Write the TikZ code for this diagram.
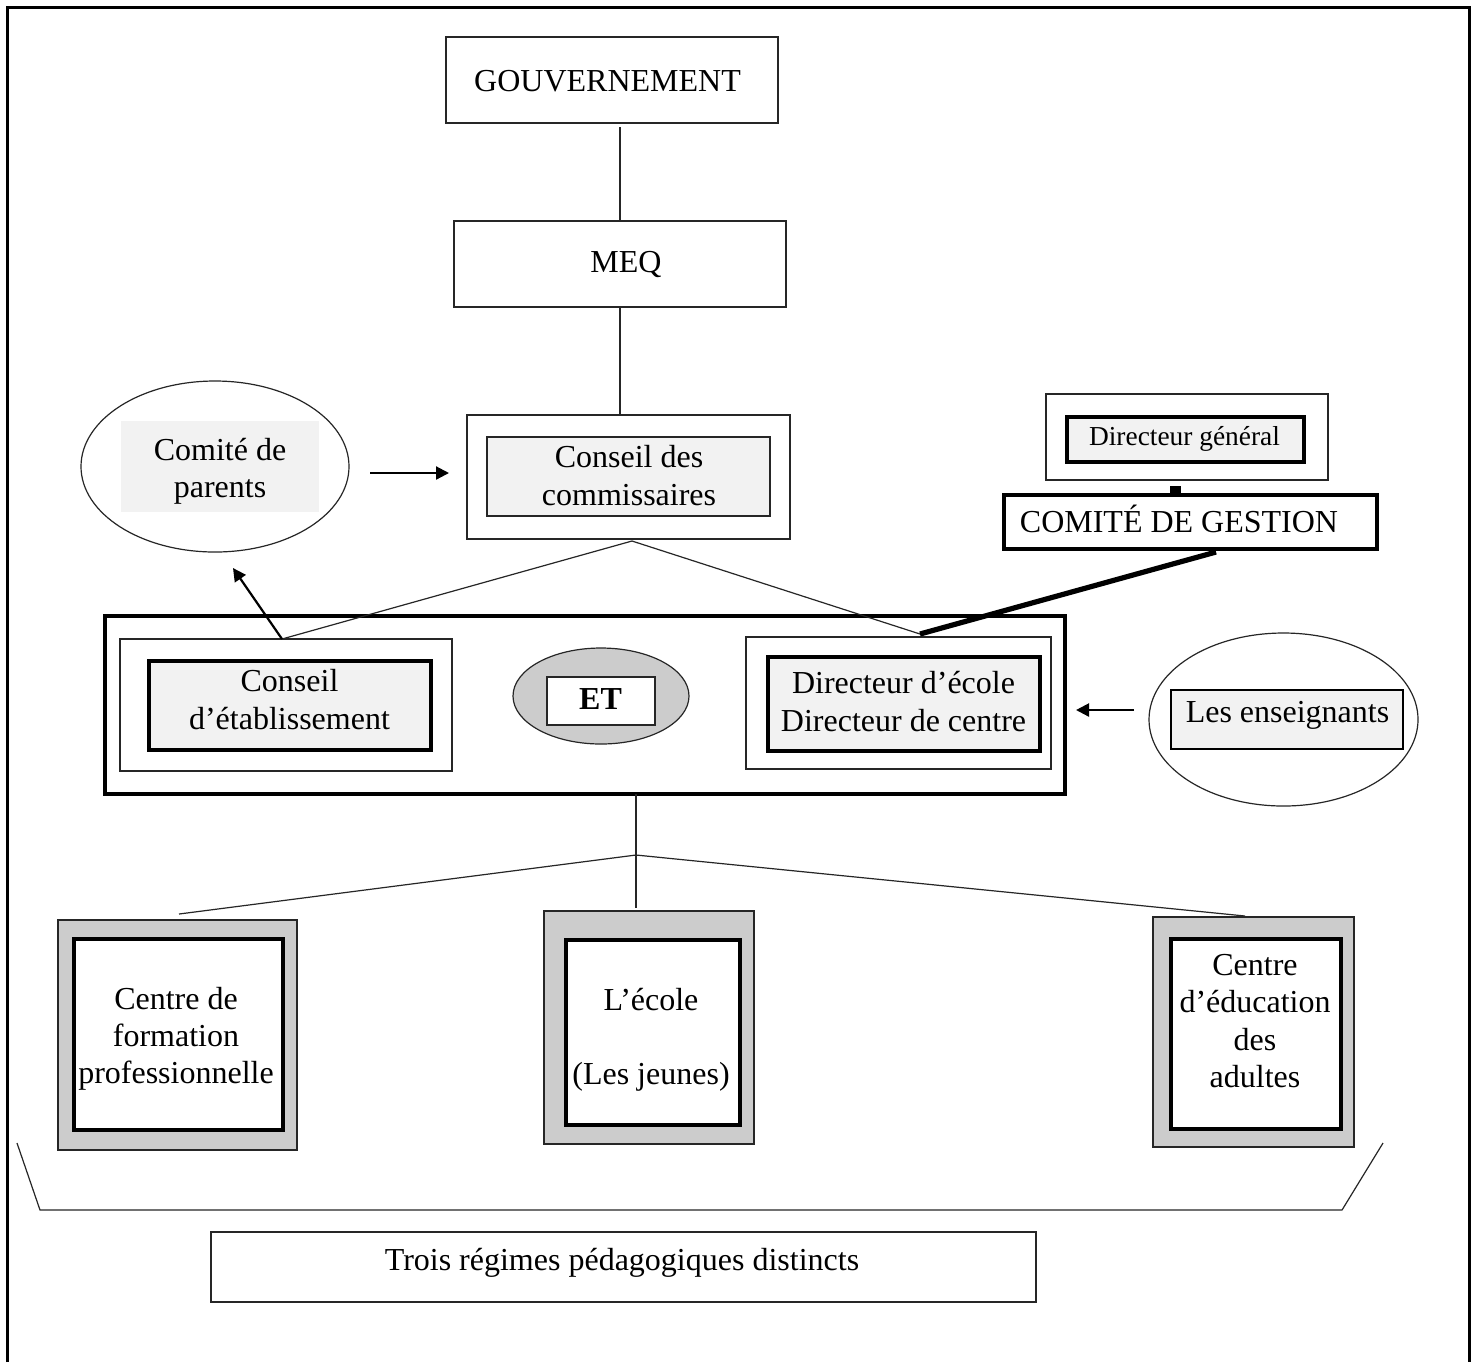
\documentclass[tikz,border=0pt]{standalone}
\usepackage{fontspec}
\setmainfont{Liberation Serif}
\usetikzlibrary{shapes.geometric,arrows.meta,calc}
\definecolor{lightfill}{HTML}{F2F2F2}
\definecolor{midgray}{HTML}{CCCCCC}
\begin{document}
\begin{tikzpicture}[x=0.5pt,y=-0.5pt,
  thinbox/.style={draw=black!85,line width=0.6pt,inner sep=0pt,outer sep=0pt},
  thickbox/.style={draw=black,line width=2.3pt,inner sep=0pt,outer sep=0pt},
  txt/.style={font=\fontsize{16}{18.6}\selectfont,align=center,inner sep=0pt},
  smalltxt/.style={font=\fontsize{13.7}{16}\selectfont,align=center,inner sep=0pt},
  conn/.style={line width=0.6pt,draw=black!85},
  arr/.style={line width=1.1pt,-{Triangle[length=6.5pt,width=6.5pt]}},
  heavy/.style={line width=2.6pt}]
\useasboundingbox (0,0) rectangle (1475,1362);
\fill[white] (0,0) rectangle (1475,1362);
% outer frame (open at the bottom)
\coordinate (f1) at (7,1362);
\coordinate (f2) at (7,7);
\coordinate (f3) at (1469,7);
\coordinate (f4) at (1469,1362);
\draw[line width=1.5pt] (f1) -- (f2) -- (f3) -- (f4);

% top chain
\node[thinbox,minimum width=166pt,minimum height=43pt] (gouv) at (612,80) {};
\node[txt] (gouvt) at (607.5,81) {GOUVERNEMENT};
\node[thinbox,minimum width=166pt,minimum height=43pt] (meq) at (620,264) {};
\node[txt] (meqt) at (626,264) {MEQ};
\node[thinbox,minimum width=161.5pt,minimum height=62pt] (cc) at (628.5,477) {};
\node[thinbox,fill=lightfill,minimum width=141.5pt,minimum height=39.5pt] (cci) at (628.5,476.5) {};
\node[txt] (cct) at (629,475.5) {Conseil des\\commissaires};

% comite de parents
\node[thinbox,ellipse,minimum width=134pt,minimum height=85.5pt] (cp) at (215,466.5) {};
\node[fill=lightfill,inner sep=0pt,minimum width=99pt,minimum height=45.5pt] (cpr) at (220,466.5) {};
\node[txt] (cpt) at (220,471.5) {Comité de\\parents};

% directeur general / comite de gestion
\node[thinbox,minimum width=141pt,minimum height=43pt] (dg) at (1187,437) {};
\node[thickbox,fill=lightfill,minimum width=118.5pt,minimum height=22.5pt] (dgi) at (1185.5,439.5) {};
\node[smalltxt] (dgt) at (1184.5,438.5) {Directeur général};
\node[thickbox,fill=white,minimum width=186.5pt,minimum height=27pt] (cg) at (1190.5,522) {};
\node[txt] (cgt) at (1179,518.5) {COMITÉ DE GESTION};

% ET block
\node[thickbox,minimum width=480pt,minimum height=89pt] (et) at (585,705) {};
\node[thinbox,minimum width=166pt,minimum height=66pt] (ceo) at (286,705) {};
\node[thickbox,fill=lightfill,minimum width=141pt,minimum height=44.5pt] (cei) at (290,705.5) {};
\node[txt] (cet) at (289.5,699.5) {Conseil\\d’établissement};
\node[thinbox,ellipse,fill=midgray,minimum width=88pt,minimum height=48pt] (etell) at (601,696) {};
\node[thinbox,fill=white,minimum width=54pt,minimum height=24pt] (etr) at (601,701) {};
\node[txt,font=\fontsize{16}{18.6}\selectfont\bfseries] (ett) at (600.5,699) {ET};
\node[thinbox,minimum width=152.5pt,minimum height=66pt] (deo) at (898.5,703) {};
\node[thickbox,fill=lightfill,minimum width=136pt,minimum height=47pt] (dei) at (904,704) {};
\node[txt] (det) at (903.5,701.5) {Directeur d’école\\Directeur de centre};

% les enseignants
\node[thinbox,ellipse,minimum width=134.5pt,minimum height=86.5pt] (ens) at (1283.5,719.5) {};
\node[draw=black,line width=1pt,fill=lightfill,inner sep=0pt,minimum width=116pt,minimum height=29.5pt] (ensr) at (1287,719.5) {};
\node[txt] (enst) at (1287.5,715.5) {Les enseignants};

% bottom boxes
\node[thinbox,fill=midgray,minimum width=119.5pt,minimum height=115pt] (cfp) at (177.5,1035) {};
\node[thickbox,fill=white,minimum width=104.5pt,minimum height=95.5pt] (cfpi) at (178.5,1034.5) {};
\node[txt] (cfpt) at (176,1038.5) {Centre de\\formation\\professionnelle};
\node[thinbox,fill=midgray,minimum width=105pt,minimum height=116.5pt] (ecole) at (649,1027.5) {};
\node[thickbox,fill=white,minimum width=87pt,minimum height=92.5pt] (ecolei) at (653,1032.5) {};
\node[txt] (ecolet) at (651,1040) {L’école\\[18.6pt](Les jeunes)};
\node[thinbox,fill=midgray,minimum width=100.5pt,minimum height=115pt] (cea) at (1253.5,1032) {};
\node[thickbox,fill=white,minimum width=85pt,minimum height=95pt] (ceai) at (1256,1034) {};
\node[txt] (ceat) at (1255,1021) {Centre\\d’éducation\\des\\adultes};

% trois regimes
\node[thinbox,minimum width=412.5pt,minimum height=35pt] (trois) at (623.5,1267) {};
\node[txt] (troist) at (622,1262.5) {Trois régimes pédagogiques distincts};

% connectors
\draw[conn] ($(meq.north |- gouv.south)+(0,4)$) -- (meq.north);
\draw[conn] (meq.south) -- (meq.south |- cc.north);
\coordinate (ccb) at ($(cc.south)+(3.5,2)$);
\coordinate (deA) at ($(deo.north west)+(174,-3)$);
\coordinate (ceA) at ($(ceo.north)+(-4,0)$);
\draw[conn] (ccb) -- (ceA);
\draw[conn] (ccb) -- (deA);
\coordinate (cpTip) at (233,568);
\draw[arr] (ceA) -- (cpTip);
\coordinate (pa1) at (370,473);
\coordinate (pa2) at (449,473);
\draw[arr] (pa1) -- (pa2);
\coordinate (ea1) at (1134,710);
\coordinate (ea2) at (1076,710);
\draw[arr] (ea1) -- (ea2);
\draw[heavy] ($(cg.south)+(25.5,3)$) -- (deA);
\coordinate (dgc) at ($(cg.north)+(-15.5,-9)$);
\draw[line width=5.5pt] (dgc) -- (dgc |- cg.north);

% tree to the three regimes
\coordinate (j) at (636,855);
\draw[conn] (j |- et.south) -- ($(j |- ecole.north)+(0,-3)$);
\draw[conn] (j) -- ($(cfp.north)+(1.5,-6)$);
\draw[conn] (j) -- ($(cea.north)+(-8.5,-1)$);

% bracket
\coordinate (b1) at (17,1143);
\coordinate (b2) at (40,1210);
\coordinate (b3) at (1342,1210);
\coordinate (b4) at (1383,1143);
\draw[conn] (b1) -- (b2) -- (b3) -- (b4);
\end{tikzpicture}
\end{document}
